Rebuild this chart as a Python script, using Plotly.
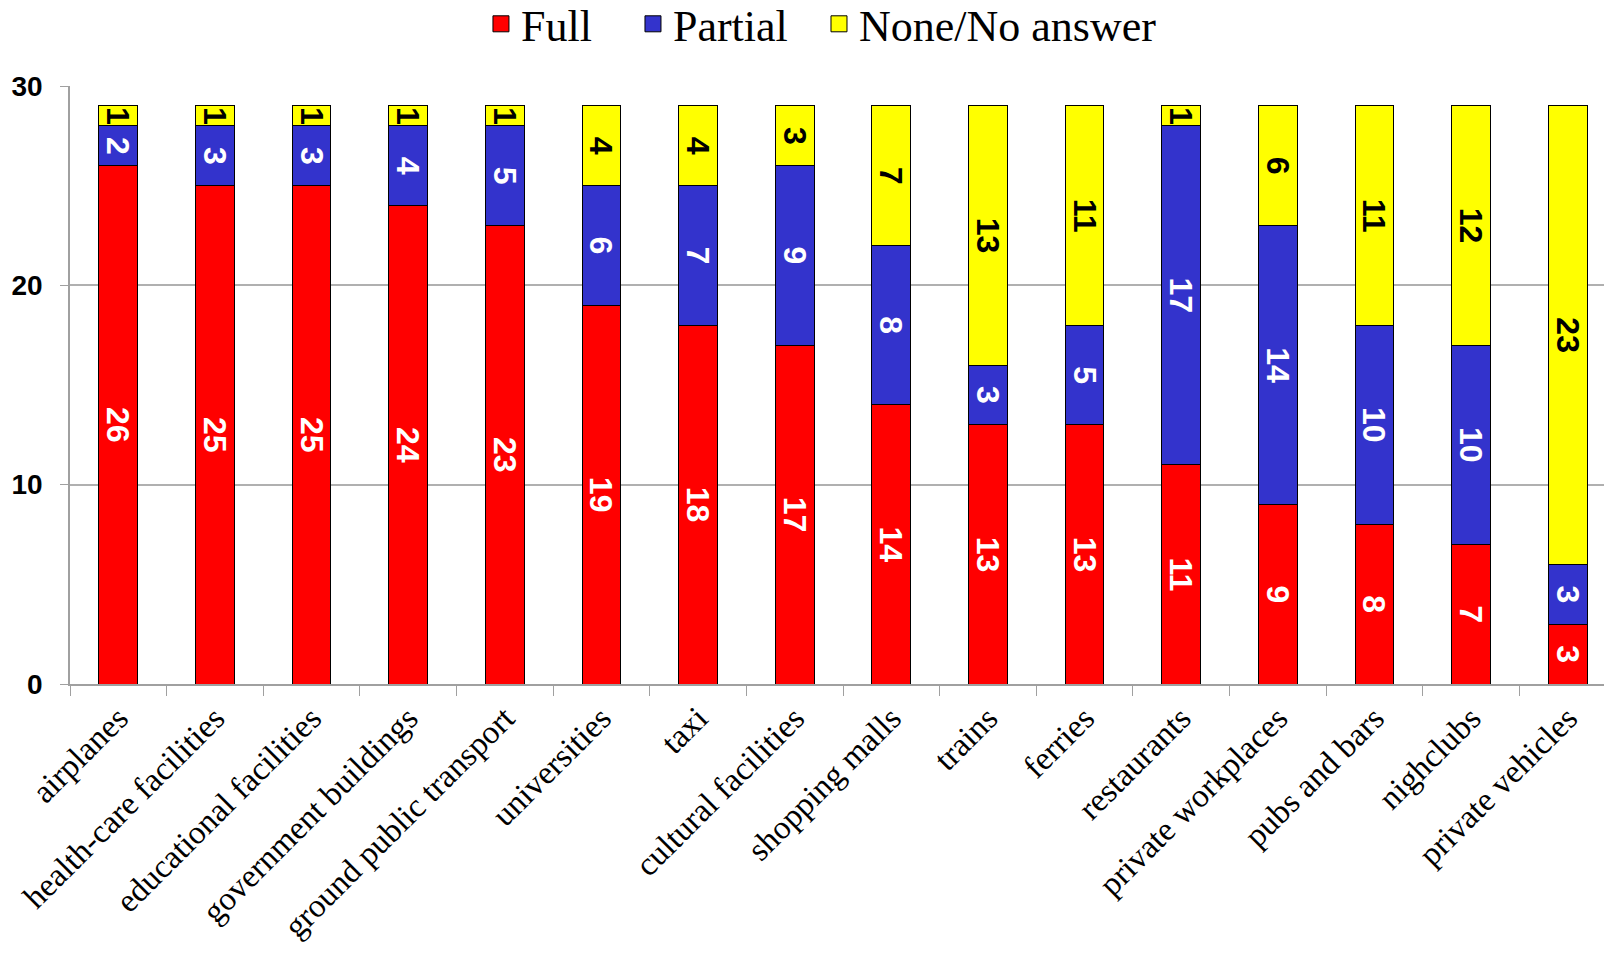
import plotly.graph_objects as go

# Survey answers per location (count of respondents)
categories = [
    "airplanes", "health-care facilities", "educational facilities",
    "government buildings", "ground public transport", "universities",
    "taxi", "cultural facilities", "shopping malls", "trains", "ferries",
    "restaurants", "private workplaces", "pubs and bars", "nighclubs",
    "private vehicles",
]
full = [26, 25, 25, 24, 23, 19, 18, 17, 14, 13, 13, 11, 9, 8, 7, 3]
partial = [2, 3, 3, 4, 5, 6, 7, 9, 8, 3, 5, 17, 14, 10, 10, 3]
none_answer = [1, 1, 1, 1, 1, 4, 4, 3, 7, 13, 11, 1, 6, 11, 12, 23]

y_ticks = [0, 10, 20, 30]

SANS = "Liberation Sans, Arial, sans-serif"
SERIF = "Liberation Serif, Times New Roman, serif"

# name, values, colour, label colour, legend id, legend x (container)
series = [
    ("Full", full, "#FF0000", "white", "legend", 0.2934),
    ("Partial", partial, "#3333CC", "white", "legend2", 0.3877),
    ("None/No answer", none_answer, "#FFFF00", "black", "legend3", 0.5031),
]

fig = go.Figure()
legends = {}
for name, vals, color, txt_color, leg, lx in series:
    fig.add_trace(go.Bar(
        x=categories, y=vals, name=name, showlegend=False,
        marker=dict(color=color, line=dict(color="black", width=1)),
        text=vals, textposition="inside", insidetextanchor="middle",
        textangle=90,
        textfont=dict(family=SANS, size=32, color=txt_color, weight="bold"),
    ))
    # legend-only entry with a square swatch
    fig.add_trace(go.Scatter(
        x=[None], y=[None], mode="markers", name=name, legend=leg,
        marker=dict(symbol="square", size=26, color=color,
                    line=dict(color="black", width=1)),
    ))
    legends[leg] = dict(
        orientation="h", x=lx, xanchor="left", xref="container",
        y=0.983, yanchor="middle", yref="container",
        font=dict(family=SERIF, size=44, color="black"),
        itemwidth=30, bgcolor="rgba(0,0,0,0)",
    )

fig.update_layout(
    barmode="stack",
    bargap=0.6,
    width=1612, height=953,
    plot_bgcolor="white", paper_bgcolor="white",
    margin=dict(l=62, r=4, t=78, b=277),
    uniformtext=dict(minsize=30, mode="show"),
    xaxis=dict(
        tickangle=-45, tickson="boundaries", ticks="outside", ticklen=10,
        tickcolor="#A0A0A0", showline=True, linecolor="#A0A0A0", linewidth=1.5,
        tickfont=dict(family=SERIF, size=33, color="black"),
        showgrid=False, automargin=False,
    ),
    yaxis=dict(
        range=[0, 30], tickvals=y_ticks, ticks="outside", ticklen=8,
        tickcolor="#A0A0A0", showline=True, linecolor="#A0A0A0", linewidth=1.5,
        gridcolor="#B0B0B0", gridwidth=1.5, zeroline=False,
        tickfont=dict(family=SANS, size=28, color="black", weight="bold"),
        ticklabelstandoff=12, automargin=False,
    ),
    **legends,
)

fig.write_html("out.html")
